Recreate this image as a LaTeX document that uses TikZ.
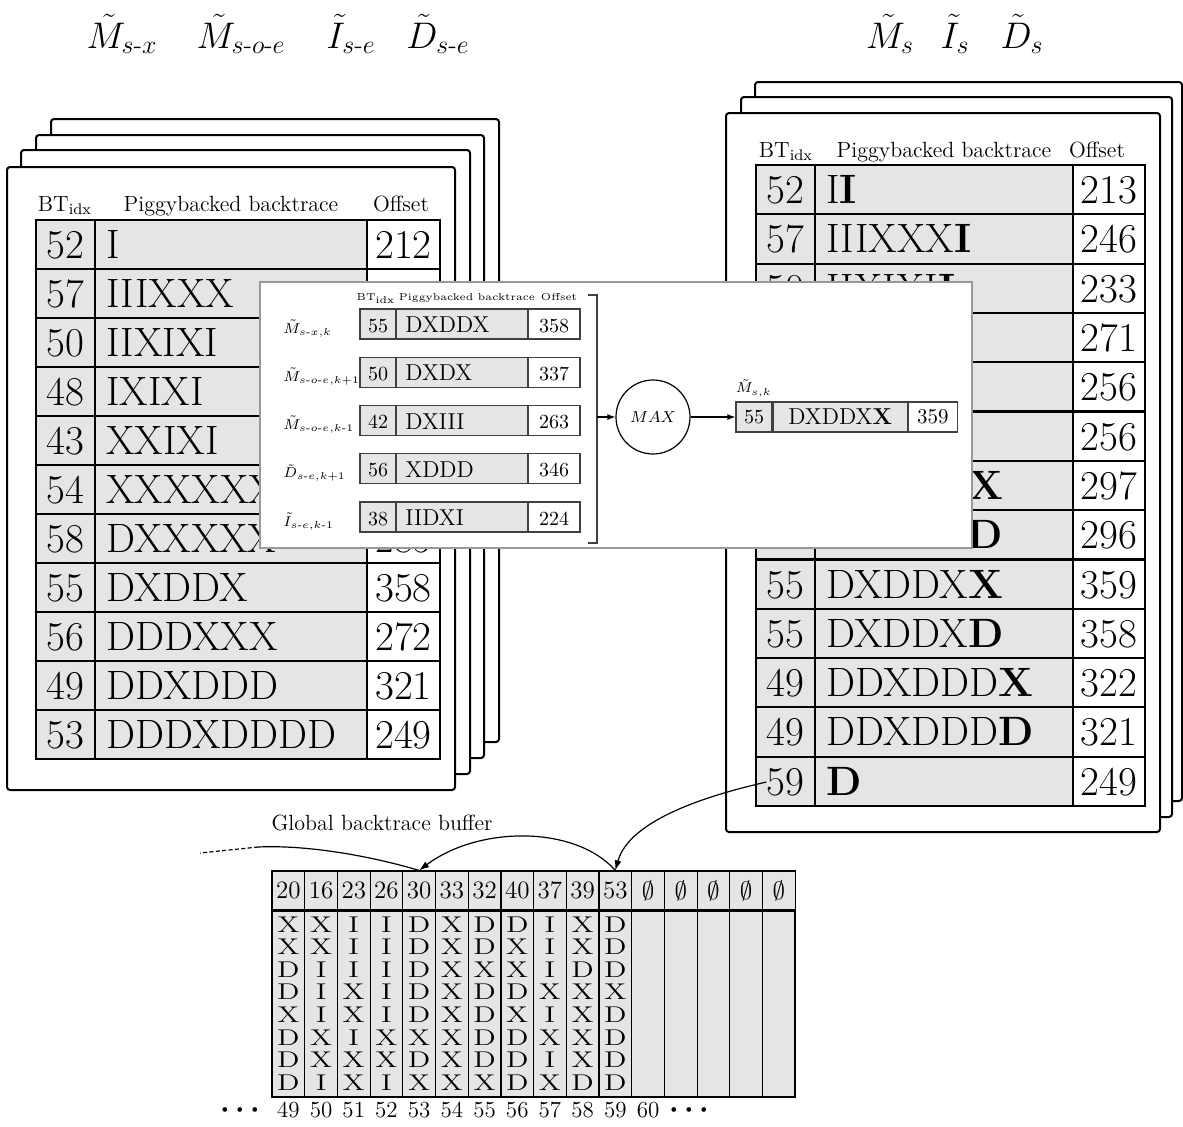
\RequirePackage{fix-cm}
\documentclass[tikz,border=0pt]{standalone}
\usepackage{amsmath,amssymb}
\usetikzlibrary{arrows.meta,positioning}
\newcommand{\hy}{\text{-}}
\newcommand{\tbfont}{\fontsize{20.5}{24}\selectfont}
\newcommand{\hdfont}{\fontsize{11}{13}\selectfont}

\tikzset{
  card/.style={draw,line width=1pt,fill=white,rounded corners=1.5pt},
  graycell/.style={fill=gray!20},
  rowline/.style={line width=1.1pt},
  colline/.style={line width=0.7pt},
  tbcell/.style={inner sep=0pt,anchor=base,font=\tbfont},
  hd/.style={inner sep=0pt,anchor=base,font=\hdfont},
  toplbl/.style={inner sep=0pt,anchor=base,font=\fontsize{18.5}{20}\selectfont},
  ovlbox/.style={draw=gray!80,line width=0.7pt,fill=white},
  ovlline/.style={draw=black!75,line width=0.6pt},
  ovlhd/.style={inner sep=0pt,anchor=base,font=\fontsize{5}{6}\selectfont},
  ovllbl/.style={inner sep=0pt,anchor=base west,font=\fontsize{7.2}{9}\selectfont},
  ovlnum/.style={inner sep=0pt,anchor=base,font=\fontsize{10}{12}\selectfont},
  ovltr/.style={inner sep=0pt,anchor=base west,font=\fontsize{11.5}{13}\selectfont},
  rescell/.style={draw=black!75,line width=0.6pt,minimum height=15pt,inner sep=0pt},
  ovlarr/.style={line width=0.6pt,-{Latex[length=4pt,width=3pt]}},
  bufline/.style={line width=0.6pt},
  bufhd/.style={draw,graycell,line width=0.6pt,minimum width=16.35pt,minimum height=19.5pt,inner sep=0pt,font=\fontsize{12.5}{14}\selectfont},
  bufch/.style={inner sep=0pt,anchor=base,font=\fontsize{12}{12}\selectfont},
  bufidx/.style={inner sep=0pt,anchor=base,font=\fontsize{11.5}{13}\selectfont},
  bufarr/.style={line width=0.6pt,-{Latex[length=5pt,width=3.5pt]}}
}

\begin{document}
\begin{tikzpicture}[x=0.5pt,y=-0.5pt]
\useasboundingbox (0,0) rectangle (1183,1126);

% Stage names
\node[toplbl] (msx) at (122,48) {$\tilde{M}_{s\hy x}$};
\node[toplbl] (msoe) at (241,48) {$\tilde{M}_{s\hy o\hy e}$};
\node[toplbl] (ise) at (351,48) {$\tilde{I}_{s\hy e}$};
\node[toplbl] (dse) at (438,48) {$\tilde{D}_{s\hy e}$};
\node[toplbl] (ms) at (890,48) {$\tilde{M}_{s}$};
\node[toplbl] (is) at (955,48) {$\tilde{I}_{s}$};
\node[toplbl] (ds) at (1022,48) {$\tilde{D}_{s}$};

% Left stack of tables
\foreach \xa/\ya/\xb/\yb in {51/119/499/742,36/135/484/758,21/150/470/774,7/167/455/790}
  \draw[card] (\xa,\ya) rectangle (\xb,\yb);
\node[hd] (lhbt) at (65,211) {BT\textsubscript{idx}};
\node[hd] (lhpb) at (231,211) {Piggybacked backtrace};
\node[hd] (lhof) at (401,211) {Offset};
\fill[graycell] (36,220) rectangle (367,759);
\foreach \i in {1,...,10}
  \draw[rowline] (36,{220+49*\i}) -- (440,{220+49*\i});
\draw[colline] (95,220) -- (95,759) (367,220) -- (367,759);
\draw[rowline] (36,220) rectangle (440,759);
\foreach \bt/\btr/\ofs [count=\i] in {52/I/212,57/IIIXXX/{},50/IIXIXI/232,48/IXIXI/270,43/XXIXI/255,54/XXXXXX/255,58/DXXXXX/285,55/DXDDX/358,56/DDDXXX/272,49/DDXDDD/321,53/DDDXDDDD/249}{
  \node[tbcell] (lbt\i) at (65.5,{209.5+49*\i}) {\bt};
  \node[tbcell,anchor=base west] (ltr\i) at (106,{209.5+49*\i}) {\btr};
  \node[tbcell] (lof\i) at (403.5,{209.5+49*\i}) {\ofs};
}

% Right stack of tables
\foreach \xa/\ya/\xb/\yb in {755/82/1182/801,741/97/1172/817,726/113/1160/832}
  \draw[card] (\xa,\ya) rectangle (\xb,\yb);
\node[hd] (rhbt) at (786,157) {BT\textsubscript{idx}};
\node[hd] (rhpb) at (944,157) {Piggybacked backtrace};
\node[hd] (rhof) at (1097,157) {Offset};
\fill[graycell] (756,165) rectangle (1073,806);
\foreach \i in {1,...,12}
  \draw[rowline] (756,{165+49.3*\i}) -- (1145,{165+49.3*\i});
\draw[colline] (815,165) -- (815,806) (1073,165) -- (1073,806);
\draw[rowline] (756,165) rectangle (1145,806);
\foreach \bt/\btr/\ofs [count=\i] in {52/I\textbf{I}/213,57/IIIXXX\textbf{I}/246,50/IIXIXI\textbf{I}/233,48/IXIXI\textbf{I}/271,43/XXIXI\textbf{I}/256,58/DXXX\textbf{X}/256,54/XXXXX\textbf{X}/297,58/DXXXX\textbf{D}/296,55/DXDDX\textbf{X}/359,55/DXDDX\textbf{D}/358,49/DDXDDD\textbf{X}/322,49/DDXDDD\textbf{D}/321,59/\textbf{D}/249}{
  \node[tbcell] (rbt\i) at (785.5,{154.35+49.3*\i}) {\bt};
  \node[tbcell,anchor=base west] (rtr\i) at (826,{154.35+49.3*\i}) {\btr};
  \node[tbcell] (rof\i) at (1109,{154.35+49.3*\i}) {\ofs};
}

% Zoomed step: candidates and max
\draw[ovlbox] (260,282) rectangle (972,548);
\node[ovlhd] (ohbt) at (376,300) {BT\textsubscript{idx}};
\node[ovlhd] (ohpb) at (467,300) {Piggybacked backtrace};
\node[ovlhd] (ohof) at (559,300) {Offset};
\foreach \lbl/\bt/\btr/\ofs [count=\i] in {{$\tilde{M}_{s\hy x,k}$}/55/DXDDX/358,{$\tilde{M}_{s\hy o\hy e,k+1}$}/50/DXDX/337,{$\tilde{M}_{s\hy o\hy e,k\hy 1}$}/42/DXIII/263,{$\tilde{D}_{s\hy e,k+1}$}/56/XDDD/346,{$\tilde{I}_{s\hy e,k\hy 1}$}/38/IIDXI/224}{
  \pgfmathsetmacro\yt{260.75+48.25*\i}
  \fill[graycell] (360,\yt) rectangle (528,{\yt+30});
  \draw[ovlline] (360,\yt) rectangle (580,{\yt+30}) (396,\yt) -- (396,{\yt+30}) (528,\yt) -- (528,{\yt+30});
  \node[ovllbl] (olb\i) at (283,{\yt+24}) {\lbl};
  \node[ovlnum] (obt\i) at (378,{\yt+23}) {\bt};
  \node[ovltr] (otr\i) at (405,{\yt+23.5}) {\btr};
  \node[ovlnum] (oof\i) at (554,{\yt+23}) {\ofs};
}
\draw[ovlline] (588,295) -- (597,295) -- (597,543) -- (588,543);
\coordinate (brk) at (597,417);
\node[circle,draw,line width=0.6pt,minimum size=37pt,inner sep=0pt,font=\fontsize{8}{9}\selectfont] (max) at (653,417) {$MAX$};
\node[rescell,graycell,minimum width=18pt,font=\fontsize{10}{12}\selectfont] (residx) at (754,417) {55};
\node[rescell,graycell,minimum width=67pt,font=\fontsize{11.5}{13}\selectfont,right=0pt of residx] (restr) {DXDDX\textbf{X}};
\node[rescell,fill=white,minimum width=24.5pt,font=\fontsize{10.5}{12}\selectfont,right=0pt of restr] (resof) {359};
\node[ovllbl,anchor=south west] (reslbl) at ([yshift=2pt]residx.north west) {$\tilde{M}_{s,k}$};
\draw[ovlarr] (brk) -- (max);
\draw[ovlarr] (max) -- (residx);

% Global backtrace buffer
\node[hd] (gbb) at (382,830) {Global backtrace buffer};
\fill[graycell] (272,910) rectangle (795,1097);
\foreach \i in {1,...,15}
  \draw[bufline] ({272+32.7*\i},910) -- ({272+32.7*\i},1097);
\draw[bufline] (272,910) rectangle (795,1097);
\foreach \v [count=\i] in {20,16,23,26,30,33,32,40,37,39,53,$\emptyset$,$\emptyset$,$\emptyset$,$\emptyset$,$\emptyset$}
  \node[bufhd] (h\i) at ({272+32.7*(\i-0.5)},890.5) {\v};
\draw[line width=1pt] (h1.south west) -- (h16.south east);
\foreach \seq [count=\i] in {{X,X,D,D,X,D,D,D},{X,X,I,I,I,X,X,I},{I,I,I,X,X,I,X,X},{I,I,I,I,I,X,X,I},{D,D,D,D,D,X,D,X},{X,X,X,X,X,X,X,X},{D,D,X,D,D,D,D,X},{D,X,X,D,X,D,D,D},{I,I,I,X,I,X,I,X},{X,X,D,X,X,X,X,D},{D,D,D,X,D,D,D,D}}
  \foreach \ch [count=\j] in \seq
    \node[bufch] (b\i-\j) at ({272+32.7*(\i-0.5)},{909.4+22.6*\j}) {\scalebox{1.25}[0.95]{\ch}};
\foreach \nn [count=\i] in {49,...,60}
  \node[bufidx] (n\nn) at ({272+32.7*(\i-0.5)},1117) {\nn};
\node[bufidx,font=\fontsize{15}{16}\selectfont] (ldots) at (243,1117) {$\boldsymbol{\cdots}$};
\node[bufidx,font=\fontsize{15}{16}\selectfont] (rdots) at (692,1117) {$\boldsymbol{\cdots}$};

% Backtrace pointers
\coordinate (chmid) at (258,847);
\coordinate (chend) at (200,853);
\draw[bufline] (h5.north) .. controls (360,853) and (300,845) .. (chmid);
\draw[bufline,dash pattern=on 2pt off 1.2pt] (chmid) -- (chend);
\draw[bufarr] (h11.north) .. controls +(-40,-45) and +(60,-45) .. (h5.north);
\draw[bufarr] (rbt13.west) .. controls +(-57,13) and +(14,-51) .. (h11.north);
\end{tikzpicture}
\end{document}
